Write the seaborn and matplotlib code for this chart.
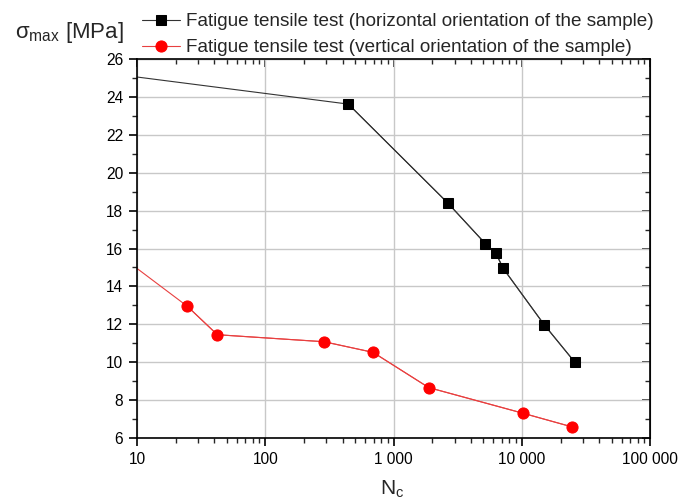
import numpy as np
import pandas as pd
import matplotlib.pyplot as plt
import matplotlib.ticker as mticker
import seaborn as sns

# horizontal orientation (first point = extrapolated line start at N=10, no marker)
n_hor = [10, 444, 2646, 5200, 6270, 7150, 14910, 25850]
s_hor = [25.05, 23.62, 18.40, 16.25, 15.75, 14.95, 11.98, 10.0]

# vertical orientation
n_ver = [10, 24.7, 42.3, 287, 692, 1880, 10280, 24780]
s_ver = [14.95, 12.95, 11.45, 11.08, 10.52, 8.66, 7.30, 6.58]

lab_hor = 'Fatigue tensile test (horizontal orientation of the sample)'
lab_ver = 'Fatigue tensile test (vertical orientation of the sample)'

df_hor = pd.DataFrame({'N': n_hor, 'S': s_hor})
df_ver = pd.DataFrame({'N': n_ver, 'S': s_ver})

sns.set_style('white')
plt.rcParams['font.family'] = ['Liberation Sans', 'DejaVu Sans']

fig = plt.figure(figsize=(6.78, 5.0), dpi=100)
ax = fig.add_axes([0.202, 0.124, 0.757, 0.758])

# full lines including extrapolated start
sns.lineplot(data=df_hor, x='N', y='S', color='#333333', lw=0.8, ax=ax, legend=False)
sns.lineplot(data=df_ver, x='N', y='S', color='#e84040', lw=0.8, ax=ax, legend=False)
# measured points
sns.lineplot(data=df_hor.iloc[1:], x='N', y='S', color='#333333', lw=0.8,
             marker='s', markersize=7, markerfacecolor='black', markeredgecolor='black',
             label=lab_hor, ax=ax)
sns.lineplot(data=df_ver.iloc[1:], x='N', y='S', color='#e84040', lw=0.8,
             marker='o', markersize=8, markerfacecolor='red', markeredgecolor='red',
             label=lab_ver, ax=ax)

ax.set_xscale('log')
ax.set_xlim(10, 100000)
ax.set_ylim(6, 26)
ax.set_yticks(np.arange(6, 27, 2))
ax.yaxis.set_minor_locator(mticker.MultipleLocator(1))
ax.xaxis.set_major_locator(mticker.LogLocator(base=10))
ax.xaxis.set_minor_locator(mticker.LogLocator(base=10, subs=np.arange(2, 10)))
ax.xaxis.set_major_formatter(mticker.FuncFormatter(lambda v, p: f'{int(round(v)):,}'.replace(',', ' ')))
ax.xaxis.set_minor_formatter(mticker.NullFormatter())

ax.grid(True, which='major', color='#c8c8c8', lw=1.0)
ax.set_axisbelow(True)
for sp in ax.spines.values():
    sp.set_color('black')
    sp.set_linewidth(1.2)

ax.tick_params(which='major', direction='out', length=6, width=1.2, labelsize=11.2,
               bottom=True, left=True, colors='black', pad=4)
ax.tick_params(which='minor', direction='out', length=3.5, width=1.0,
               bottom=True, left=True)

# mirrored inward ticks on top and right
top = ax.secondary_xaxis('top')
top.xaxis.set_major_locator(mticker.LogLocator(base=10))
top.xaxis.set_minor_locator(mticker.LogLocator(base=10, subs=np.arange(2, 10)))
top.tick_params(which='major', direction='in', length=6, width=1.2, labeltop=False)
top.tick_params(which='minor', direction='in', length=3.5, width=1.0)
top.xaxis.set_major_formatter(mticker.NullFormatter())
top.xaxis.set_minor_formatter(mticker.NullFormatter())
right = ax.secondary_yaxis('right')
right.set_yticks(np.arange(6, 27, 2))
right.yaxis.set_minor_locator(mticker.MultipleLocator(1))
right.tick_params(which='major', direction='in', length=6, width=1.2, labelright=False)
right.tick_params(which='minor', direction='in', length=3.5, width=1.0)

ax.set_xlabel('')
ax.set_ylabel('')
fig.text(0.022, 0.935, r'$\mathregular{σ_{max}}$ [MPa]', fontsize=16, va='center', ha='left')
fig.text(0.578, 0.022, r'$\mathregular{N_c}$', fontsize=15, ha='center', va='center')

ax.get_legend().remove()
h, l = ax.get_legend_handles_labels()
fig.legend(h, l, loc='upper left', bbox_to_anchor=(0.19, 1.0), frameon=False,
           fontsize=13.6, handlelength=2.0, handletextpad=0.35, labelspacing=0.45,
           borderaxespad=0.3)

fig.savefig('out.png', dpi=100)
